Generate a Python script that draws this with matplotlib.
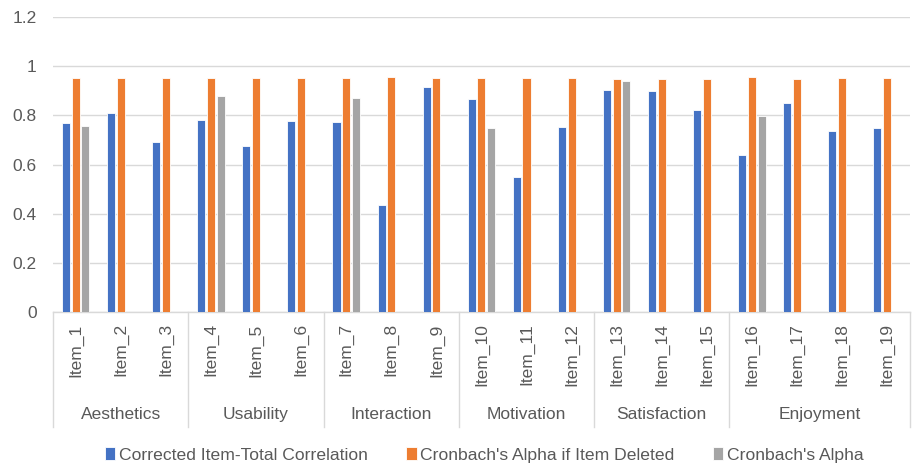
import numpy as np
import matplotlib.pyplot as plt
import matplotlib.transforms as mtransforms

# Item reliability: corrected item-total correlation, alpha if deleted, scale alpha

items = ["Item_%d" % i for i in range(1, 20)]
groups = ["Aesthetics", "Usability", "Interaction", "Motivation", "Satisfaction", "Enjoyment"]
group_sizes = [3, 3, 3, 3, 3, 4]

item_total = [0.769, 0.811, 0.692, 0.782, 0.675, 0.778, 0.774, 0.435, 0.915,
              0.866, 0.551, 0.751, 0.902, 0.898, 0.824, 0.640, 0.850, 0.735, 0.747]
alpha_deleted = [0.953, 0.953, 0.953, 0.953, 0.953, 0.953, 0.953, 0.957, 0.953,
                 0.953, 0.953, 0.953, 0.948, 0.948, 0.948, 0.957, 0.948, 0.953, 0.953]
# scale alpha only reported on the first item of each group
alpha = [0.757, np.nan, np.nan, 0.880, np.nan, np.nan, 0.872, np.nan, np.nan,
         0.747, np.nan, np.nan, 0.941, np.nan, np.nan, 0.799, np.nan, np.nan, np.nan]

series_names = ["Corrected Item-Total Correlation", "Cronbach's Alpha if Item Deleted", "Cronbach's Alpha"]
colors = ["#4472C4", "#ED7D31", "#A5A5A5"]
text_col = "#595959"

plt.rcParams['font.family'] = ['Liberation Sans', 'DejaVu Sans']

fig = plt.figure(figsize=(9.17, 4.66), dpi=100)
ax = fig.add_axes([0.058, 0.330, 0.934, 0.6335])

x = np.arange(len(items))
w = 0.18
step = 0.215
for k, vals in enumerate([item_total, alpha_deleted, alpha]):
    ax.bar(x + (k - 1) * step, vals, width=w, color=colors[k], label=series_names[k],
           edgecolor="white", linewidth=0.6, zorder=3)

ax.set_xlim(-0.5, len(items) - 0.5)
ax.set_ylim(0, 1.2)
ax.set_yticks([0, 0.2, 0.4, 0.6, 0.8, 1.0, 1.2])
ax.set_yticklabels(["0", "0.2", "0.4", "0.6", "0.8", "1", "1.2"])
ax.grid(axis='y', color="#d9d9d9", linewidth=1, zorder=0)
for s in ["top", "right", "left"]:
    ax.spines[s].set_visible(False)
ax.spines["bottom"].set_color("#d9d9d9")
ax.spines["bottom"].set_linewidth(1)
ax.tick_params(axis='y', length=0, labelsize=12.5, labelcolor=text_col, pad=12)
ax.set_xticks(x)
ax.set_xticklabels(items, rotation=90, fontsize=12.5, color=text_col)
ax.tick_params(axis='x', length=0, pad=8)

# group separators and group names under the item labels
trans = mtransforms.blended_transform_factory(ax.transData, ax.transAxes)
edges = np.concatenate([[0], np.cumsum(group_sizes)]) - 0.5
for e in edges:
    ax.plot([e, e], [0, -0.39], transform=trans, color="#d9d9d9", linewidth=1, clip_on=False)
for g, a, b in zip(groups, edges[:-1], edges[1:]):
    ax.text((a + b) / 2, -0.345, g, transform=trans, ha="center", va="center",
            fontsize=12.5, color=text_col)

fig.legend(loc="center", bbox_to_anchor=(0.528, 0.024), ncol=3, frameon=False,
           fontsize=12.6, handlelength=0.6, handleheight=0.8, handletextpad=0.2,
           columnspacing=2.2, labelcolor=text_col)

fig.savefig("out.png", dpi=100)
